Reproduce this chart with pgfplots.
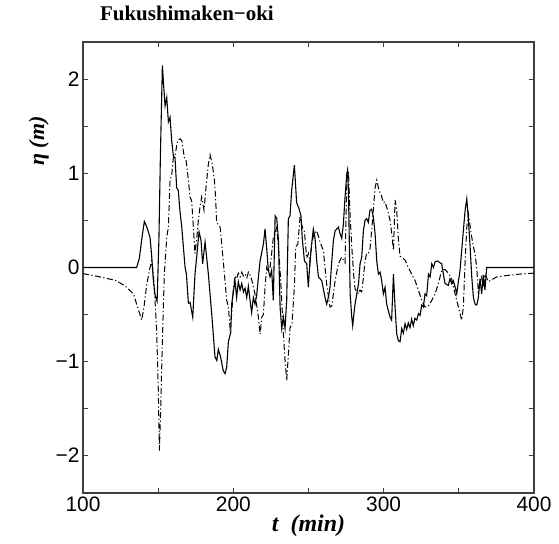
\documentclass[border=0pt]{standalone}
\usepackage{fontspec}
\setmainfont{Liberation Sans}
\newfontfamily\tnr{Liberation Serif}
\usepackage{pgfplots}
\pgfplotsset{compat=1.18}
\definecolor{axgray}{HTML}{404040}
\begin{document}
\begin{tikzpicture}
\begin{axis}[
  name=ax,
  scale only axis=true,
  width=451bp, height=451bp,
  xmin=100, xmax=400, ymin=-2.4, ymax=2.4,
  xtick={100,200,300,400}, minor xtick={150,250,350},
  ytick={-2,-1,0,1,2}, minor ytick={-1.5,-0.5,0.5,1.5},
  yticklabels={−2,−1,0,1,2},
  tick align=inside,
  major tick length=5bp, minor tick length=5bp,
  every tick/.style={axgray, line width=1bp},
  axis line style={axgray, line width=1.4bp},
  /pgf/number format/assume math mode=true,
  ticklabel style={font=\fontsize{21}{21}\selectfont, text=black},
  xlabel={\tnr\fontsize{24}{24}\selectfont\bfseries\itshape t\ \ (min)},
  ylabel={\tnr\fontsize{22}{22}\selectfont\bfseries\itshape η (m)},
  ylabel style={at={(ticklabel cs:0.78)}},
  xlabel style={yshift=3bp},
  clip=true,
]
\addplot[black, line width=1.1bp] coordinates {
(100,0) (135.7,0) (137.5,0.1) (139.5,0.35) (140.8,0.49) (142.5,0.43) (144.6,0.32) (145.8,0.1) (146.8,-0.14) (148,-0.3) (149.3,-0.36) (150.5,0.3) (151.5,1.2) (152.8,2.15) (153.8,1.9) (154.6,1.72) (155.7,1.81) (156.8,1.55) (157.9,1.6) (159.0,1.35) (160.1,1.19) (161.2,1.17) (162.3,0.85) (163.4,0.82) (164.5,0.6) (165.7,0.43) (167.9,0.0) (168.8,-0.07) (170.1,-0.38) (171.2,-0.37) (173.0,-0.53) (174.5,-0.07) (175.6,0.11) (177.2,0.38) (178.5,0.29) (179.6,0.04) (181.2,0.27) (183.4,-0.07) (185.6,-0.49) (187.8,-0.95) (189,-0.99) (190,-0.87) (191.5,-0.95) (193.3,-1.1) (194.5,-1.13) (195.6,-1.06) (196.7,-0.79) (198.3,-0.69) (198.9,-0.39) (200,-0.26) (201.1,-0.14) (202.2,-0.32) (203.3,-0.15) (204.5,-0.24) (205.6,-0.17) (206.7,-0.26) (207.8,-0.22) (208.9,-0.32) (210,-0.2) (211.1,-0.35) (212.2,-0.48) (213.3,-0.32) (214.4,-0.39) (215.5,-0.3) (216.7,-0.1) (217.8,0.07) (218.9,0.16) (220,0.25) (221.1,0.41) (222.2,0.2) (223.3,-0.03) (224.4,-0.1) (225.5,-0.03) (226.6,-0.35) (227.8,0.55) (228.9,0.52) (230,0.29) (231.1,-0.42) (232.2,-0.65) (233.3,-0.53) (234.4,-0.65) (235.5,-0.35) (236.6,0.52) (237.7,0.55) (238.8,0.82) (240.6,1.09) (242.1,0.69) (243.6,0.63) (245.0,0.55) (245.9,0.30) (247.3,0.07) (248.8,0.04) (249.9,-0.21) (251,0.07) (252.1,0.25) (253.2,0.41) (254.3,0.32) (255.5,0.07) (256.6,-0.1) (258.8,-0.14) (261,-0.32) (262.1,-0.39) (263.2,-0.32) (264.3,-0.21) (265.5,0.07) (266.6,0.29) (267.7,0.39) (268.8,0.41) (269.9,0.43) (271,0.36) (272.1,0.31) (273.2,0.46) (274.3,0.75) (275.5,1.0) (276,1.04) (276.6,0.8) (277.7,-0.28) (278.8,-0.53) (279.4,-0.62) (280.7,-0.42) (282.1,-0.28) (283.3,-0.17) (284.3,0.04) (285.4,0.11) (286.5,0.39) (287.6,0.5) (288.7,0.52) (289.8,0.48) (290.9,0.61) (292,0.62) (293.1,0.54) (294.3,0.36) (295.4,0.07) (296.5,-0.07) (297.6,-0.05) (298.7,-0.14) (299.8,-0.28) (300.9,-0.21) (302,-0.39) (303.1,-0.46) (304.3,-0.53) (305.3,-0.56) (306.5,-0.07) (307.6,-0.43) (308.7,-0.71) (309.8,-0.78) (310.9,-0.79) (312,-0.65) (313.1,-0.7) (314.2,-0.6) (315.3,-0.66) (316.4,-0.59) (317.5,-0.64) (318.6,-0.55) (319.7,-0.62) (320.8,-0.54) (322,-0.56) (323.1,-0.49) (324.2,-0.51) (325.3,-0.4) (326.4,-0.42) (327.5,-0.28) (328.6,-0.3) (329.8,-0.07) (330.9,-0.1) (332,0.04) (333.1,0.0) (334.2,0.06) (335.9,0.07) (337.5,0.05) (338.6,0.04) (339.7,-0.07) (340.8,-0.17) (343,-0.19) (344.1,-0.12) (345.2,-0.17) (346.3,-0.14) (347.4,-0.2) (348.6,-0.28) (349.7,-0.15) (350.8,-0.03) (351.9,0.18) (353,0.39) (354.2,0.61) (355.3,0.73) (356.4,0.5) (357.5,0.22) (358.6,-0.1) (359.7,-0.32) (360.8,-0.39) (361.9,-0.4) (363,-0.32) (364.1,-0.12) (365.2,-0.28) (366.3,-0.08) (367.4,-0.24) (368.5,0.0) (400,0)
};
\addplot[black, line width=1bp, dash pattern=on 6bp off 2.5bp on 1.2bp off 2.5bp] coordinates {
(100,-0.065) (111.3,-0.1) (122.4,-0.14) (129,-0.21) (133.5,-0.28) (135.7,-0.39) (137.5,-0.48) (139,-0.56) (140.6,-0.42) (142.4,-0.18) (144.6,0.0) (145.7,0.07) (146.8,-0.07) (147.9,-0.35) (149.0,-0.67) (150.1,-1.31) (150.8,-1.95) (151.7,-1.49) (152.8,-0.78) (154.1,-0.07) (155.7,0.32) (156.8,0.43) (157.9,0.93) (159.0,0.98) (160.1,1.17) (161.2,1.19) (162.9,1.35) (164.5,1.37) (165.7,1.35) (167.4,1.17) (168.5,1.15) (170.1,0.93) (171.2,0.75) (172.3,0.71) (173.4,0.43) (174.5,0.15) (175.6,0.29) (176.7,0.5) (177.8,0.64) (178.9,0.75) (180.5,0.61) (181.8,0.85) (183.4,1.1) (184.5,1.2) (186.0,1.1) (187.4,0.93) (188.2,0.75) (188.9,0.48) (191.2,0.43) (193.3,0.07) (195.6,-0.35) (196.7,-0.42) (197.8,-0.64) (198.9,-0.5) (200,-0.23) (201.1,-0.09) (202.2,-0.12) (203.3,-0.06) (204.5,-0.1) (205.6,-0.05) (206.7,-0.09) (207.8,-0.07) (209,-0.11) (210,-0.05) (211.1,-0.08) (212.2,-0.13) (214.4,-0.28) (216.7,-0.53) (217.8,-0.71) (218.9,-0.53) (220,-0.5) (221.1,-0.21) (222.2,0.0) (223.3,-0.05) (224.4,0.0) (225.5,0.15) (226.6,0.32) (228.9,0.43) (230,0.22) (231.1,-0.03) (232.2,-0.35) (233.3,-0.71) (234.4,-0.99) (235.5,-1.2) (236.6,-0.93) (237.7,-0.64) (239,-0.6) (240.6,-0.21) (241.5,0.22) (242.9,0.25) (244.4,0.54) (245.9,0.43) (247.3,0.38) (248.8,0.1) (250,0.15) (251,0.05) (252.1,0.25) (253.5,0.35) (255.5,0.39) (257.7,0.27) (259.9,0.18) (261,0.0) (262.1,-0.18) (264.3,-0.42) (265.5,-0.41) (267.7,-0.14) (269.9,0.04) (272.1,0.11) (273.2,0.08) (274.3,0.05) (275.5,0.89) (276.6,1.03) (277.7,0.54) (278.8,0.22) (280,-0.07) (281,-0.23) (283.2,-0.28) (284.3,-0.24) (285.4,-0.26) (286.5,-0.11) (287.6,0.07) (288.7,0.15) (289.8,0.15) (290.9,0.2) (292,0.39) (293.1,0.61) (294.3,0.85) (295.4,0.93) (296.9,0.82) (298.2,0.78) (299.8,0.69) (300.9,0.7) (302.6,0.61) (304.3,0.5) (305.4,0.36) (306.5,0.18) (307.6,0.72) (308.7,0.6) (309.8,0.3) (310.9,0.12) (312,0.11) (314.2,0.08) (316.4,0.0) (318.6,-0.07) (320.9,-0.14) (323.1,-0.24) (325.3,-0.35) (327.5,-0.42) (329.8,-0.41) (332,-0.35) (334.2,-0.28) (336.4,-0.17) (338.6,-0.03) (340.8,-0.02) (343,-0.06) (345.2,-0.12) (347.5,-0.28) (349.7,-0.42) (351.9,-0.56) (353,-0.42) (354.2,0.07) (355.3,0.43) (356.4,0.57) (358.2,0.36) (359.7,0.22) (360.8,0.14) (361.9,0.0) (363,-0.26) (364.1,-0.15) (365.2,-0.1) (366.3,-0.21) (367.4,-0.07) (369.6,-0.15) (370.8,-0.14) (375.2,-0.1) (381.9,-0.085) (390.7,-0.07) (400,-0.06)
};
\end{axis}
\node[anchor=base west, inner sep=0pt] at ([shift={(17bp,21bp)}]ax.north west) {\tnr\fontsize{21}{21}\selectfont\bfseries Fukushimaken−oki};
\pgfresetboundingbox
\path ([shift={(-83bp,-51bp)}]ax.south west) rectangle ([shift={(25bp,42bp)}]ax.north east);
\end{tikzpicture}
\end{document}
